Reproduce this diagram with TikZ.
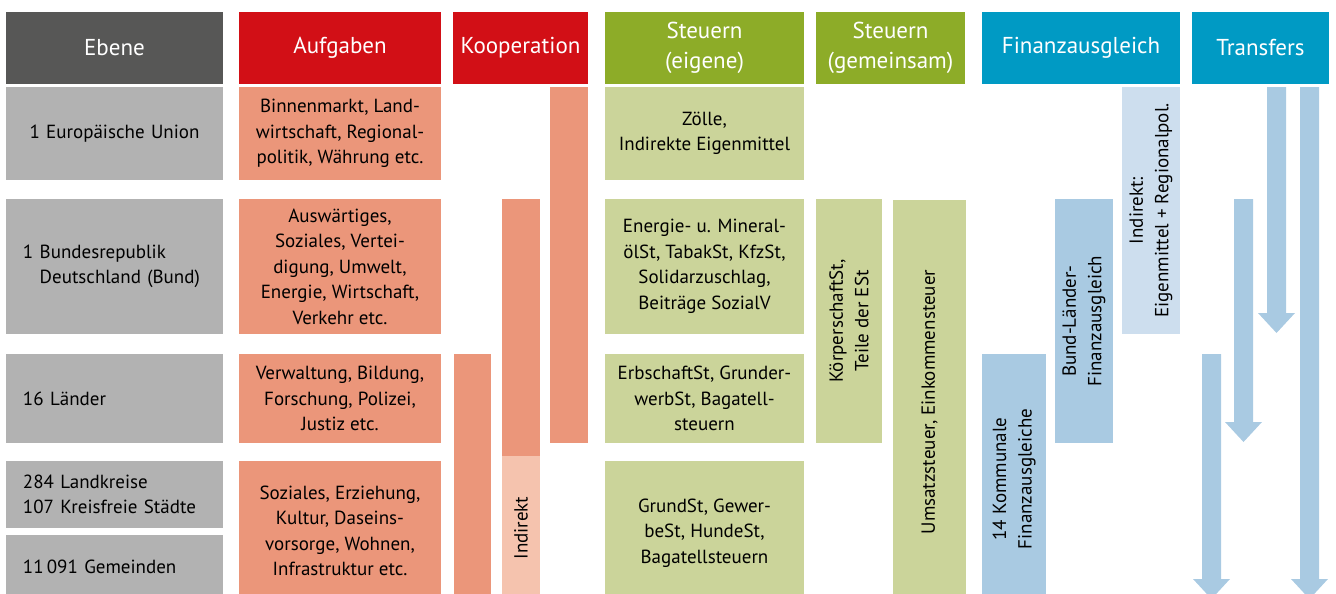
\documentclass[tikz,border=0pt]{standalone}
\usepackage{fontspec}
\setmainfont{PT Sans}

\definecolor{ebenedark}{HTML}{575756}
\definecolor{ebenelight}{HTML}{B2B2B2}
\definecolor{aufgabenred}{HTML}{D20F16}
\definecolor{aufgabenlight}{HTML}{EB967A}
\definecolor{aufgabenpale}{HTML}{F5C3AE}
\definecolor{steuergreen}{HTML}{8DAC28}
\definecolor{steuerlight}{HTML}{CBD49A}
\definecolor{finanzblue}{HTML}{009AC4}
\definecolor{finanzlight}{HTML}{A9CAE2}
\definecolor{finanzpale}{HTML}{CDDEEE}

\newcommand{\cellfont}{\fontsize{19}{25.5}\selectfont}
\newcommand{\headfont}{\fontsize{23}{30}\selectfont}

\tikzset{
  cell/.style={inner sep=0pt, align=center, font=\cellfont},
  head/.style={cell, text=white, font=\headfont, minimum height=72pt},
  level/.style={cell, fill=ebenelight, minimum width=217pt, inner xsep=17pt, text width=183pt, align=left},
  task/.style={cell, fill=aufgabenlight, minimum width=202pt},
  owntax/.style={cell, fill=steuerlight, minimum width=199pt},
  transfer/.style={fill=finanzlight},
}

% transfer arrow: left edge of shaft, top, start of head
\newcommand{\transferarrow}[3]{%
  \fill[transfer] (#1,#2) -- (#1+19,#2) -- (#1+19,#3) -- ++(9,0) -- ++(-18.5,20)
    -- ++(-18.5,-20) -- ++(9,0) -- cycle;}

\begin{document}
\begin{tikzpicture}[x=1pt, y=-1pt]
    \useasboundingbox (0,0) rectangle (1336,594);
    \clip (0,0) rectangle (1336,594);

    % Headers
    \node[head, fill=ebenedark, minimum width=217pt] (hEbene) at (114.5,48) {Ebene};
    \node[head, fill=aufgabenred, minimum width=202pt] (hAufgaben) at (340,48) {Aufgaben};
    \node[head, fill=aufgabenred, minimum width=135pt] (hKoop) at (520.5,48) {Kooperation};
    \node[head, fill=steuergreen, minimum width=199pt] (hEigene) at (704.5,48) {Steuern\\(eigene)};
    \node[head, fill=steuergreen, minimum width=149pt] (hGemeinsam) at (890.5,48) {Steuern\\(gemeinsam)};
    \node[head, fill=finanzblue, minimum width=198pt] (hFinanz) at (1081,48) {Finanzausgleich};
    \node[head, fill=finanzblue, minimum width=137pt] (hTransfers) at (1260.5,48) {Transfers};

    % Ebenen
    \node[level, minimum height=93pt, align=center] (eEU) at (114.5,133.5) {1 Europäische Union};
    \node[level, minimum height=135pt] (eBund) at (114.5,266.5) {1 Bundesrepublik\\\hphantom{1 }Deutschland (Bund)};
    \node[level, minimum height=89pt] (eLaender) at (114.5,398.5) {16 Länder};
    \node[level, minimum height=67pt] (eKreise) at (114.5,494.5) {284 Landkreise\\107 Kreisfreie Städte};
    \node[level, minimum height=64pt] (eGemeinden) at (114.5,567) {11\,091 Gemeinden};

    % Aufgaben
    \node[task, minimum height=93pt] (aEU) at (340,133.5) {Binnenmarkt, Land-\\wirtschaft, Regional-\\politik, Währung etc.};
    \node[task, minimum height=135pt] (aBund) at (340,266.5) {Auswärtiges,\\Soziales, Vertei-\\digung, Umwelt,\\Energie, Wirtschaft,\\Verkehr etc.};
    \node[task, minimum height=89pt] (aLaender) at (340,398.5) {Verwaltung, Bildung,\\Forschung, Polizei,\\Justiz etc.};
    \node[task, minimum height=140pt] (aKommunen) at (340,531) {Soziales, Erziehung,\\Kultur, Daseins-\\vorsorge, Wohnen,\\Infrastruktur etc.};

    % Kooperation
    \node[cell, fill=aufgabenlight, minimum width=37pt, minimum height=250pt] (kLaender) at (472.5,479) {};
    \node[cell, fill=aufgabenlight, minimum width=38pt, minimum height=257pt] (kBund) at (521,327.5) {};
    \node[cell, fill=aufgabenpale, rotate=90, minimum width=144pt, minimum height=38pt] (kIndirekt) at (521,528) {Indirekt};
    \node[cell, fill=aufgabenlight, minimum width=38pt, minimum height=356pt] (kEU) at (569,265) {};

    % Steuern (eigene)
    \node[owntax, minimum height=93pt] (sEU) at (704.5,133.5) {Zölle,\\Indirekte Eigenmittel};
    \node[owntax, minimum height=135pt] (sBund) at (704.5,266.5) {Energie- u. Mineral-\\ölSt, TabakSt, KfzSt,\\Solidarzuschlag,\\Beiträge SozialV};
    \node[owntax, minimum height=89pt] (sLaender) at (704.5,398.5) {ErbschaftSt, Grunder-\\werbSt, Bagatell-\\steuern};
    \node[owntax, minimum height=144pt] (sKommunen) at (704.5,533) {GrundSt, Gewer-\\beSt, HundeSt,\\Bagatellsteuern};

    % Steuern (gemeinsam)
    \node[cell, fill=steuerlight, rotate=90, minimum width=244pt, minimum height=66pt] (gKoerper) at (849,321) {KörperschaftSt,\\Teile der ESt};
    \node[cell, fill=steuerlight, rotate=90, minimum width=404pt, minimum height=73pt] (gUmsatz) at (929.5,402) {Umsatzsteuer, Einkommensteuer};

    % Finanzausgleich
    \node[cell, fill=finanzlight, rotate=90, minimum width=250pt, minimum height=64pt] (fKommunal) at (1014,479) {14 Kommunale\\Finanzausgleiche};
    \node[cell, fill=finanzlight, rotate=90, minimum width=244pt, minimum height=58pt] (fBundLaender) at (1084,321) {Bund-Länder-\\Finanzausgleich};
    \node[cell, fill=finanzpale, rotate=90, minimum width=247pt, minimum height=58pt] (fEU) at (1151,210.5) {Indirekt:\\Eigenmittel + Regionalpol.};

    % Transfers
    \transferarrow{1267}{87}{313}
    \transferarrow{1300}{87}{579}
    \transferarrow{1234}{199}{422}
    \transferarrow{1202}{354}{579}
\end{tikzpicture}
\end{document}
